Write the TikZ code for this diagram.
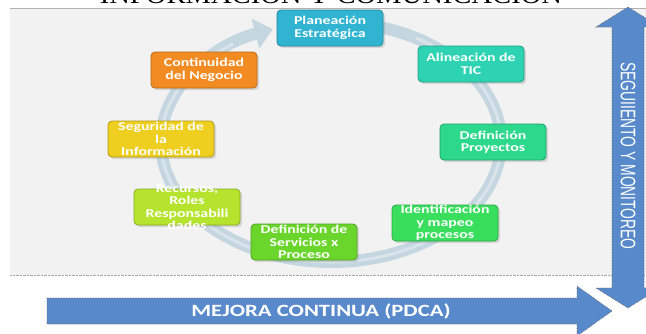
\documentclass[tikz,border=0pt]{standalone}
\usepackage{fontspec}
\usepackage{xcolor}
\usepackage{tikz}
\usetikzlibrary{arrows.meta,shadows,calc}

\newfontfamily\boxfont[FakeStretch=1.32]{Carlito}
\newfontfamily\narrowfont[FakeStretch=0.66]{Liberation Sans}
\newfontfamily\titlefont[FakeStretch=1.1]{Liberation Serif}

\definecolor{panelgray}{RGB}{242,242,242}
\definecolor{ringblue}{RGB}{196,214,224}
\definecolor{arrowblue}{RGB}{88,138,203}
\definecolor{plancol}{RGB}{48,180,210}
\definecolor{alincol}{RGB}{45,211,178}
\definecolor{proycol}{RGB}{44,216,140}
\definecolor{identcol}{RGB}{56,222,92}
\definecolor{servcol}{RGB}{106,214,44}
\definecolor{recurcol}{RGB}{182,228,46}
\definecolor{segcol}{RGB}{238,206,30}
\definecolor{contcol}{RGB}{242,140,34}

\tikzset{
  cyclebox/.style={rounded corners=4pt, minimum width=106pt, minimum height=36pt,
    fill=#1, draw=#1!75!black, line width=0.8pt, drop shadow={opacity=0.25}},
  boxtext/.style={text=white, font=\boxfont\bfseries\fontsize{12}{12.5}\selectfont,
    align=center, inner sep=0pt},
  bigarrow/.style={fill=arrowblue, draw=black!60, densely dotted, line width=0.6pt},
}

\begin{document}
\begin{tikzpicture}[x=1pt, y=-1pt]
\useasboundingbox (0,0) rectangle (646,333);
\clip (0,0) rectangle (646,333);

% Panel
\fill[panelgray] (10,8) rectangle (646,275);
\draw[gray!60] (10,8) -- (646,8);
\draw[gray!70, densely dotted] (10,275) -- (646,275);
\node[font=\titlefont\fontsize{26}{26}\selectfont, anchor=base] (titulo) at (331,3) {INFORMACIÓN Y COMUNICACIÓN};

% Cycle ring
\coordinate (ringc) at (331,142);
\draw[ringblue, line width=12pt, -{Triangle[length=18pt,width=30pt]}]
  (ringc) ++(-80:170 and 120) arc[start angle=-80, end angle=250, x radius=170, y radius=120];
\draw[white, opacity=0.35, line width=3pt]
  (ringc) ++(-60:170 and 120) arc[start angle=-60, end angle=235, x radius=170, y radius=120];

% Stages
\node[cyclebox=plancol, label={[boxtext]center:{Planeación\\Estratégica}}] (plan) at (330,28) {};
\node[cyclebox=alincol, label={[boxtext]center:{Alineación de\\TIC}}] (alin) at (471,64) {};
\node[cyclebox=proycol, label={[boxtext]center:{Definición\\Proyectos}}] (defproy) at (493,142) {};
\node[cyclebox=identcol, label={[boxtext]center:{Identificación\\y mapeo\\procesos}}] (ident) at (445,223) {};
\node[cyclebox=servcol, label={[boxtext]center:{Definición de\\Servicios x\\Proceso}}] (defserv) at (304,242) {};
\node[cyclebox=recurcol, label={[boxtext]center:{Recursos,\\Roles\\Responsabili\\dades}}] (recursos) at (187,207) {};
\node[cyclebox=segcol, label={[boxtext]center:{Seguridad de\\la\\Información}}] (seguridad) at (161,139) {};
\node[cyclebox=contcol, label={[boxtext]center:{Continuidad\\del Negocio}}] (continuidad) at (204,70) {};

% Monitoring arrow
\draw[bigarrow] (612,288) -- (612,27) -- (596,27) -- (628,7) -- (660,27) -- (644,27)
  -- (644,288) -- (660,288) -- (628,308) -- (596,288) -- cycle;
\node[rotate=-90, text=white, font=\narrowfont\fontsize{21}{21}\selectfont] (seguimiento) at (628,156) {SEGUIIENTO Y MONITOREO};

% Improvement arrow
\draw[bigarrow] (47,298) -- (577,298) -- (577,286) -- (612,311) -- (577,336)
  -- (577,324) -- (47,324) -- cycle;
\node[text=white, font=\boxfont\bfseries\fontsize{17.2}{17.2}\selectfont] (mejora) at (321,311) {MEJORA CONTINUA (PDCA)};
\end{tikzpicture}
\end{document}
